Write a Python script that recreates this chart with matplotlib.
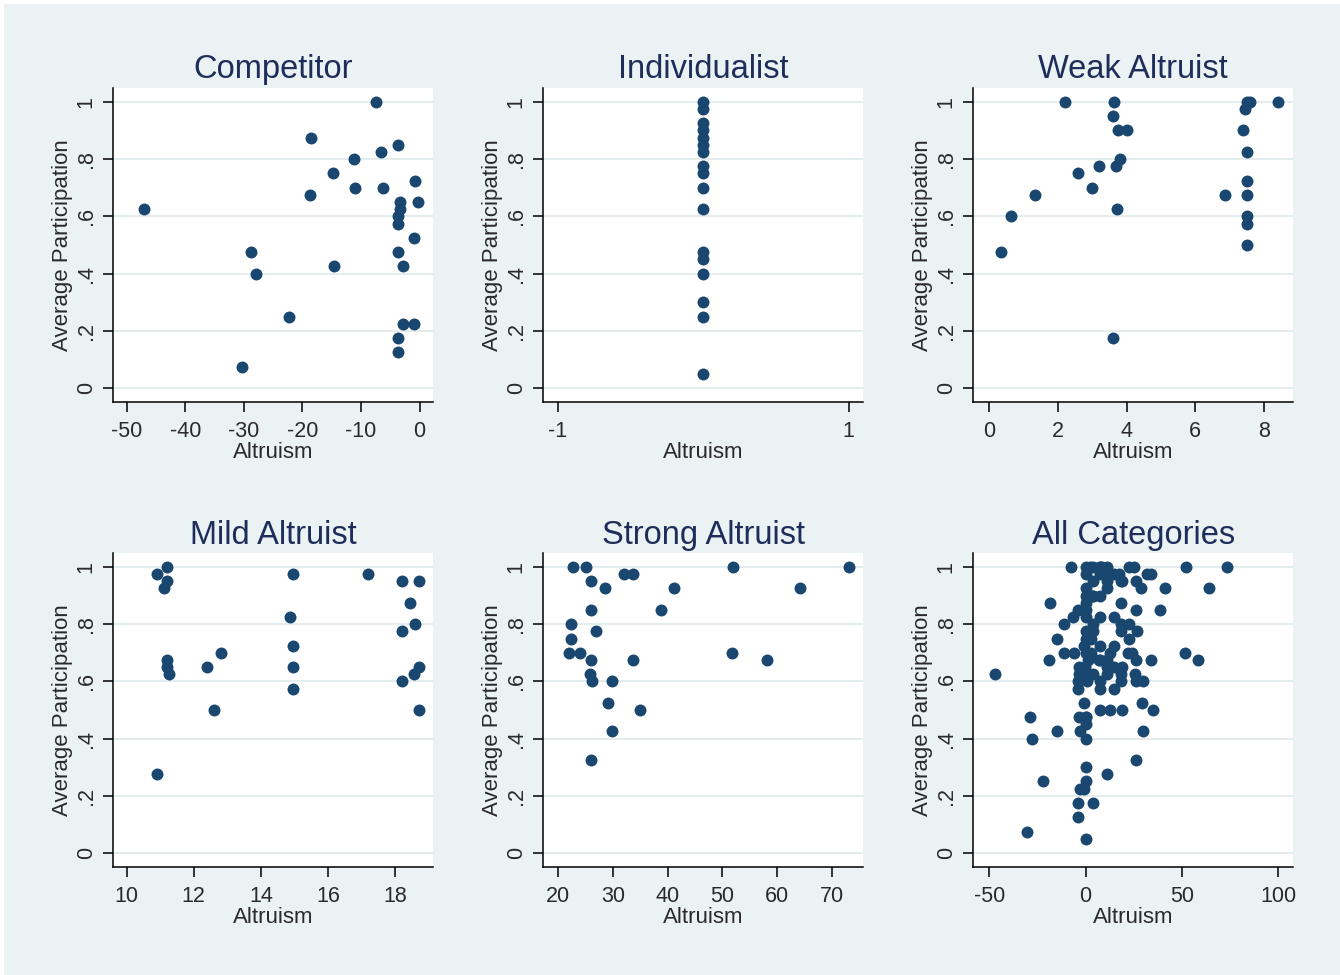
import numpy as np
import matplotlib.pyplot as plt
from matplotlib.patches import Rectangle

plt.rcParams['font.family'] = ['Liberation Sans', 'DejaVu Sans']

# Datos: Altruism (x) y Average Participation (y)
comp_x = [-47, -7.5, -18.5, -3.75, -6.5, -11.25, -14.75, -0.75, -11, -6.25,
          -18.75, -3.4, -0.2, -3.4, -3.75, -3.75, -0.9, -28.8, -3.6, -14.6,
          -2.75, -27.9, -22.25, -2.75, -1.0, -3.75, -3.75, -30.4]
comp_y = [0.625, 1.0, 0.875, 0.85, 0.825, 0.8, 0.75, 0.725, 0.7, 0.7,
          0.675, 0.65, 0.65, 0.625, 0.6, 0.575, 0.525, 0.475, 0.475, 0.425,
          0.425, 0.4, 0.25, 0.225, 0.225, 0.175, 0.125, 0.075]

indiv_x = [0] * 17
indiv_y = [1.0, 0.975, 0.925, 0.9, 0.875, 0.85, 0.825, 0.775, 0.75, 0.7,
           0.625, 0.475, 0.45, 0.4, 0.3, 0.25, 0.05]

weak_x = [2.2, 3.625, 7.5, 7.6, 8.4, 7.45, 3.6, 3.75, 4.0, 7.4,
          7.5, 3.8, 3.2, 3.7, 2.6, 3.0, 7.5, 1.33, 6.87, 7.5,
          3.72, 0.63, 7.5, 7.5, 7.5, 0.33, 3.6]
weak_y = [1.0, 1.0, 1.0, 1.0, 1.0, 0.975, 0.95, 0.9, 0.9, 0.9,
          0.825, 0.8, 0.775, 0.775, 0.75, 0.7, 0.725, 0.675, 0.675, 0.675,
          0.625, 0.6, 0.6, 0.575, 0.5, 0.475, 0.175]

mild_x = [11.2, 10.9, 14.95, 17.2, 11.2, 18.2, 18.7, 11.1, 18.45, 14.87,
          18.6, 18.2, 14.95, 12.8, 11.2, 11.2, 11.25, 12.4, 14.95, 18.72,
          18.55, 18.2, 14.95, 12.6, 18.72, 10.9]
mild_y = [1.0, 0.975, 0.975, 0.975, 0.95, 0.95, 0.95, 0.925, 0.875, 0.825,
          0.8, 0.775, 0.725, 0.7, 0.675, 0.65, 0.625, 0.65, 0.65, 0.65,
          0.625, 0.6, 0.575, 0.5, 0.5, 0.275]

strong_x = [22.7, 25.0, 51.9, 73.2, 32.1, 33.7, 26.0, 28.5, 41.2, 64.2,
            26.0, 38.8, 22.3, 26.9, 22.3, 21.95, 24.0, 51.7, 26.0, 33.7,
            58.1, 25.8, 26.1, 29.9, 29.1, 34.9, 29.9, 26.0]
strong_y = [1.0, 1.0, 1.0, 1.0, 0.975, 0.975, 0.95, 0.925, 0.925, 0.925,
            0.85, 0.85, 0.8, 0.775, 0.75, 0.7, 0.7, 0.7, 0.675, 0.675,
            0.675, 0.625, 0.6, 0.6, 0.525, 0.5, 0.425, 0.325]

# Todas las categorias juntas
all_x = comp_x + indiv_x + weak_x + mild_x + strong_x
all_y = comp_y + indiv_y + weak_y + mild_y + strong_y

titulos = ['Competitor', 'Individualist', 'Weak Altruist',
           'Mild Altruist', 'Strong Altruist', 'All Categories']
datos = [(comp_x, comp_y), (indiv_x, indiv_y), (weak_x, weak_y),
         (mild_x, mild_y), (strong_x, strong_y), (all_x, all_y)]
xticks = [[-50, -40, -30, -20, -10, 0], [-1, 1], [0, 2, 4, 6, 8],
          [10, 12, 14, 16, 18], [20, 30, 40, 50, 60, 70], [-50, 0, 50, 100]]
xlims = [(-52.3, 2.35), (-1.1, 1.1), (-0.465, 8.86),
         (9.6, 19.14), (17.26, 75.8), (-58.3, 107.8)]

navy = '#1A476F'
fondo = '#EAF2F3'

fig = plt.figure(figsize=(13.4, 9.75), dpi=100)
fig.patch.set_facecolor('white')
fig.patches.append(Rectangle((4 / 1340, 0), 1, 1 - 4 / 975, transform=fig.transFigure,
                             facecolor=fondo, edgecolor='none', zorder=-10))

W, H = 1340, 975
lefts = [113.3, 543.3, 973.3]
rows = [(88, 402), (553.3, 866.7)]

for i in range(6):
    fila, col = divmod(i, 3)
    top, bot = rows[fila]
    ax = fig.add_axes([lefts[col] / W, (H - bot) / H, 320 / W, (bot - top) / H])
    ax.set_facecolor('white')
    x, y = datos[i]
    ax.plot(x, y, 'o', ms=8.6, color=navy, mec='none', zorder=3)

    ax.set_xlim(xlims[i])
    ax.set_ylim(-0.048, 1.048)
    ax.set_xticks(xticks[i])
    ax.set_xticklabels([str(t) for t in xticks[i]])
    ax.set_yticks([0, 0.2, 0.4, 0.6, 0.8, 1.0])
    ax.set_yticklabels(['0', '.2', '.4', '.6', '.8', '1'], rotation=90, va='center')
    ax.grid(axis='y', color='#E2EAED', lw=1.3, zorder=0)
    ax.set_axisbelow(True)

    for s in ['top', 'right']:
        ax.spines[s].set_visible(False)
    for s in ['left', 'bottom']:
        ax.spines[s].set_linewidth(1.1)
        ax.spines[s].set_color('black')
    ax.tick_params(length=7, width=1.1, labelsize=15.5, colors='black',
                   labelcolor='#2a2a2a')
    ax.tick_params(axis='x', pad=7)
    ax.tick_params(axis='y', pad=5)

    ax.set_title(titulos[i], fontsize=23.5, color='#1E2D5A', pad=7)
    ax.set_xlabel('Altruism', fontsize=16, color='#2a2a2a', labelpad=0)
    ax.set_ylabel('Average Participation', fontsize=16, color='#2a2a2a', labelpad=2)

plt.savefig('out.png', dpi=100, facecolor=fig.get_facecolor())
